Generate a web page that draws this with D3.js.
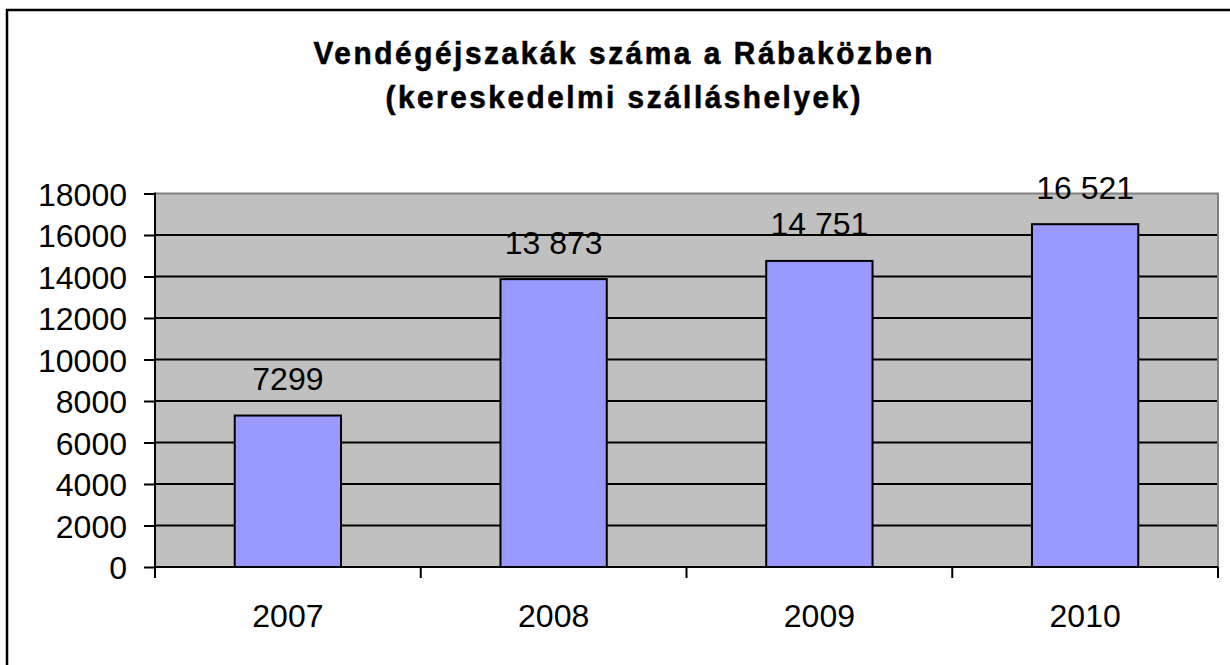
<!DOCTYPE html>
<html>
<head>
<meta charset="utf-8">
<script src="https://cdn.jsdelivr.net/npm/d3@7"></script>
<style>
  body { margin: 0; background: #fff; }
  svg { display: block; }
</style>
</head>
<body>
<svg width="1230" height="665"></svg>
<script>
// data
const years = ["2007", "2008", "2009", "2010"];
const nights = [7299, 13873, 14751, 16521];
const nightLabels = ["7299", "13 873", "14 751", "16 521"];
const yTicks = [0, 2000, 4000, 6000, 8000, 10000, 12000, 14000, 16000, 18000];
const titleLines = ["Vendégéjszakák száma a Rábaközben", "(kereskedelmi szálláshelyek)"];

const width = 1230, height = 665;
const plot = { left: 155, right: 1218, top: 193.5, bottom: 567 };
const fontSize = 32;

const svg = d3.select("svg")
    .style("font-family", "'Liberation Sans', Arial, sans-serif");

// outer chart frame (only left and top visible in crop)
svg.append("rect")
    .attr("x", 7).attr("y", 10)
    .attr("width", 1240).attr("height", 700)
    .attr("fill", "none")
    .attr("stroke", "#000")
    .attr("stroke-width", 2.5);

// title - bold, slightly condensed glyphs with spacing, like the original
const squeeze = 0.93;
const titleWidths = [619, 475];
titleLines.forEach((t, i) => {
  const g = svg.append("g")
      .attr("transform", `translate(623,${64 + i * 43.5}) scale(${squeeze},1)`);
  const txt = g.append("text")
      .attr("font-weight", "bold")
      .attr("font-size", 32)
      .attr("text-anchor", "middle")
      .attr("stroke", "#000")
      .attr("stroke-width", 0.6)
      .text(t);
  const w = txt.node().getComputedTextLength();
  const ls = (titleWidths[i] / squeeze - w) / (t.length - 1);
  txt.attr("letter-spacing", ls + "px").attr("x", ls / 2);
});

const x = d3.scaleBand()
    .domain(years)
    .range([plot.left, plot.right])
    .paddingInner(0.6)
    .paddingOuter(0.3);

const y = d3.scaleLinear()
    .domain([0, 18000])
    .range([plot.bottom, plot.top]);

// plot background
svg.append("rect")
    .attr("x", plot.left).attr("y", plot.top)
    .attr("width", plot.right - plot.left)
    .attr("height", plot.bottom - plot.top)
    .attr("fill", "#c0c0c0");

// gridlines
svg.append("g")
    .selectAll("line")
    .data(yTicks.filter(d => d > 0 && d < 18000))
    .join("line")
    .attr("x1", plot.left).attr("x2", plot.right)
    .attr("y1", d => y(d)).attr("y2", d => y(d))
    .attr("stroke", "#000")
    .attr("stroke-width", 2);

// grey frame top / right
svg.append("path")
    .attr("d", `M${plot.left},${plot.top}H${plot.right}V${plot.bottom}`)
    .attr("fill", "none")
    .attr("stroke", "#808080")
    .attr("stroke-width", 2);

// bars
svg.append("g")
    .selectAll("rect")
    .data(nights)
    .join("rect")
    .attr("x", (d, i) => x(years[i]))
    .attr("y", d => y(d))
    .attr("width", x.bandwidth())
    .attr("height", d => y(0) - y(d))
    .attr("fill", "#9999ff")
    .attr("stroke", "#000")
    .attr("stroke-width", 2);

// value labels
svg.append("g")
    .attr("font-size", fontSize)
    .attr("text-anchor", "middle")
    .selectAll("text")
    .data(nights)
    .join("text")
    .attr("x", (d, i) => x(years[i]) + x.bandwidth() / 2)
    .attr("y", d => y(d) - 25.5)
    .text((d, i) => nightLabels[i]);

// y axis
const yAxis = svg.append("g")
    .attr("transform", `translate(${plot.left},0)`)
    .call(d3.axisLeft(y).tickValues(yTicks).tickSize(11).tickPadding(17).tickFormat(d3.format("d")));
yAxis.select(".domain").remove();
yAxis.selectAll(".tick line").attr("stroke", "#000").attr("stroke-width", 2);
yAxis.selectAll(".tick text")
    .attr("font-size", fontSize)
    .attr("font-family", "'Liberation Sans', Arial, sans-serif")
    .attr("fill", "#000")
    .attr("dy", "0.36em");

svg.append("line")
    .attr("x1", plot.left).attr("x2", plot.left)
    .attr("y1", plot.top - 1).attr("y2", plot.bottom + 11)
    .attr("stroke", "#000").attr("stroke-width", 2);

// x axis
svg.append("line")
    .attr("x1", plot.left).attr("x2", plot.right)
    .attr("y1", plot.bottom).attr("y2", plot.bottom)
    .attr("stroke", "#000").attr("stroke-width", 2);

const step = x.step();
const bounds = d3.range(years.length + 1).map(i => plot.left + i * step);
svg.append("g")
    .selectAll("line")
    .data(bounds)
    .join("line")
    .attr("x1", d => d).attr("x2", d => d)
    .attr("y1", plot.bottom).attr("y2", plot.bottom + 11)
    .attr("stroke", "#000").attr("stroke-width", 2);

svg.append("g")
    .attr("font-size", fontSize)
    .attr("text-anchor", "middle")
    .selectAll("text")
    .data(years)
    .join("text")
    .attr("x", d => x(d) + x.bandwidth() / 2)
    .attr("y", 627)
    .text(d => d);
</script>
</body>
</html>
